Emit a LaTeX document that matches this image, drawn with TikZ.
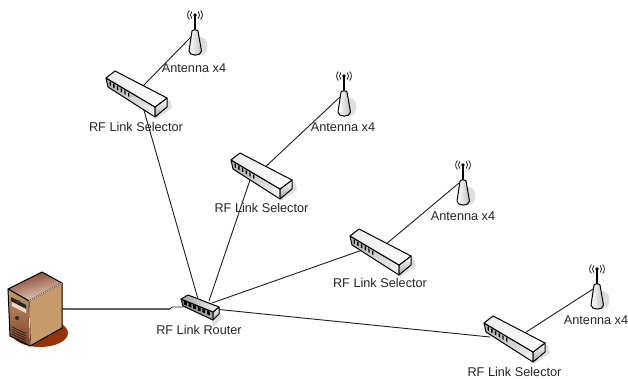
\documentclass[tikz,border=0pt]{standalone}
\usepackage{fontspec}
\setmainfont{Liberation Sans}
\usetikzlibrary{calc}
\definecolor{shadowgray}{RGB}{222,222,222}
\definecolor{linkdark}{RGB}{30,30,30}
\definecolor{srvred}{RGB}{150,50,8}
\definecolor{srvtan}{RGB}{198,155,105}
\definecolor{srvbrown}{RGB}{172,92,48}
\definecolor{srvdark}{RGB}{125,62,38}
\definecolor{srvpale}{RGB}{238,215,198}
\tikzset{
  lbl/.style={inner sep=0pt,font=\fontsize{12.7}{14}\selectfont,text=black!85},
  link/.style={draw=linkdark,line width=0.9pt},
  edge/.style={draw=black,line width=1pt,line join=round},
  selectorpic/.pic={
    \fill[shadowgray] (48,27) -- (64,22) -- (66,30) -- (50,41) -- cycle;
    \shade[edge,left color=black!30,right color=black!6,shading angle=20] (0,0) -- (49,29) -- (49,39) -- (2,9) -- cycle;
    \shade[edge,top color=white,bottom color=black!35] (49,29) -- (61,20) -- (61,29) -- (49,39) -- cycle;
    \shade[edge,left color=black!8,right color=white] (0,0) -- (9,-7) -- (61,20) -- (49,29) -- cycle;
    \foreach \i in {0,...,5}
      \fill[black] ($(3.5,3.4)+(\i*3.7,\i*2.2)$) -- ++(1.4,0.8) -- ++(0,3.8) -- ++(-1.4,-0.8) -- cycle;
  },
  routerpic/.pic={
    \fill[shadowgray] (30,15) -- (38,12) -- (41,19) -- (32,28) -- cycle;
    \shade[edge,top color=black!50,bottom color=black!30] (0,0) -- (32,13) -- (32,21) -- (2,7) -- cycle;
    \shade[edge,top color=white,bottom color=black!35] (32,13) -- (38,8) -- (38,15) -- (32,21) -- cycle;
    \shade[edge,left color=black!35,right color=black!5] (0,0) -- (7,-4) -- (38,8) -- (32,13) -- cycle;
    \foreach \i in {0,...,5}
      \fill[black] ($(3,1.8)+(\i*4.6,\i*1.95)$) -- ++(2.8,1.2) -- ++(0,3.6) -- ++(-2.8,-1.2) -- cycle;
  },
  antennapic/.pic={
    \fill[shadowgray] (6,31) ellipse[x radius=6.5,y radius=9];
    \draw[black,line width=1.6pt] (0,0) -- (0,17);
    \fill[black] (0,0) circle[radius=1.8];
    \draw[black,line width=0.7pt] (-3.2,-3.5) .. controls (-5,-1.5) and (-5,1.5) .. (-3.2,3.5);
    \draw[black,line width=0.7pt] (3.2,-3.5) .. controls (5,-1.5) and (5,1.5) .. (3.2,3.5);
    \draw[black,line width=0.7pt] (-5.6,-4.5) .. controls (-8,-1.5) and (-8,1.5) .. (-5.6,4.5);
    \draw[black,line width=0.7pt] (5.6,-4.5) .. controls (8,-1.5) and (8,1.5) .. (5.6,4.5);
    \shade[edge,left color=white,right color=black!25] (-3,16) .. controls (-2.5,14.5) and (2.5,14.5) .. (3,16)
      -- (6.5,36) .. controls (6.5,41.5) and (-6,41.5) .. (-6,36) -- cycle;
  },
  serverpic/.pic={
    \fill[srvred] (40,333) ellipse[x radius=28,y radius=14];
    \shade[edge,left color=srvdark,right color=srvpale,shading angle=15] (8,289) -- (42,272) -- (62,283) -- (29,301) -- cycle;
    \shade[edge,left color=srvtan,middle color=srvbrown,right color=srvtan,shading angle=0] (29,301) -- (62,283) -- (62,328) -- (30,346) -- cycle;
    \shade[edge,top color=srvtan,bottom color=srvdark] (8,289) -- (29,301) -- (30,346) -- (10,336) -- cycle;
    \draw[srvpale,line width=0.7pt] (29,301) -- (62,283);
    \draw[srvpale,line width=0.7pt] (29,301) -- (30,345);
    \fill[black!85] (11,297) -- (26,305) -- (26,309) -- (11,301) -- cycle;
    \fill[srvpale] (12,302) -- (26,309) -- (26,313) -- (12,306) -- cycle;
    \fill[black!80] (18,302) circle[radius=2];
    \fill[black!85] (17,318) circle[radius=2];
    \fill[green!45!black] (17.8,319.5) circle[radius=1];
    \foreach \i in {0,...,4}
      \draw[black!85,line width=0.8pt] ($(12,327)+(0,\i*2.4)$) -- ++(14,6.5);
  },
}
\begin{document}
\begin{tikzpicture}[x=1pt,y=-1pt]
\useasboundingbox (0,0) rectangle (628,379);
\fill[white] (0,0) rectangle (628,379);
% anchors
\coordinate (srv) at (62,309);
\coordinate (bend) at (170,309);
\coordinate (router) at (183,307);
\coordinate (rA) at (209,301);
\coordinate (rB) at (212,303);
\coordinate (rC) at (214,309);
\coordinate (rD) at (200,306);
\coordinate (s1a) at (141,88);
\coordinate (s1b) at (141,100);
\coordinate (s2a) at (262,170);
\coordinate (s2b) at (250,180);
\coordinate (s3a) at (385,245);
\coordinate (s3b) at (368,248);
\coordinate (s4a) at (520,336);
\coordinate (s4b) at (490,337);
\coordinate (a1) at (191,37);
\coordinate (a2) at (340,97);
\coordinate (a3) at (459,183);
\coordinate (a4) at (593,289);
% connectors
\draw[draw=black!60,line width=1.2pt] (srv) -- (bend);
\draw[link] (bend) -- (172,307) -- (router);
\draw[link] (rD) -- (s1b);
\draw[link] (rA) -- (s2b);
\draw[link] (rB) -- (s3b);
\draw[link] (rC) -- (s4b);
\draw[link] (a1) -- (s1a);
\draw[link] (a2) -- (s2a);
\draw[link] (a3) -- (s3a);
\draw[link] (a4) -- (s4a);
% devices
\pic (server) at (0,0) {serverpic};
\pic (rt) at (181,299) {routerpic};
\pic (sel1) at (106,78) {selectorpic};
\pic (sel2) at (231,160) {selectorpic};
\pic (sel3) at (350,236) {selectorpic};
\pic (sel4) at (484,323) {selectorpic};
\pic (ant1) at (195,15) {antennapic};
\pic (ant2) at (344,76) {antennapic};
\pic (ant3) at (463,165) {antennapic};
\pic (ant4) at (597,269) {antennapic};
% labels
\node[lbl] (t1) at (136,127) {RF Link Selector};
\node[lbl] (t2) at (261.5,208) {RF Link Selector};
\node[lbl] (t3) at (380,283) {RF Link Selector};
\node[lbl] (t4) at (514.5,372) {RF Link Selector};
\node[lbl] (t5) at (199,330) {RF Link Router};
\node[lbl] (t6) at (194,68) {Antenna x4};
\node[lbl] (t7) at (343,127) {Antenna x4};
\node[lbl] (t8) at (463,216) {Antenna x4};
\node[lbl] (t9) at (596,320) {Antenna x4};
\end{tikzpicture}
\end{document}
